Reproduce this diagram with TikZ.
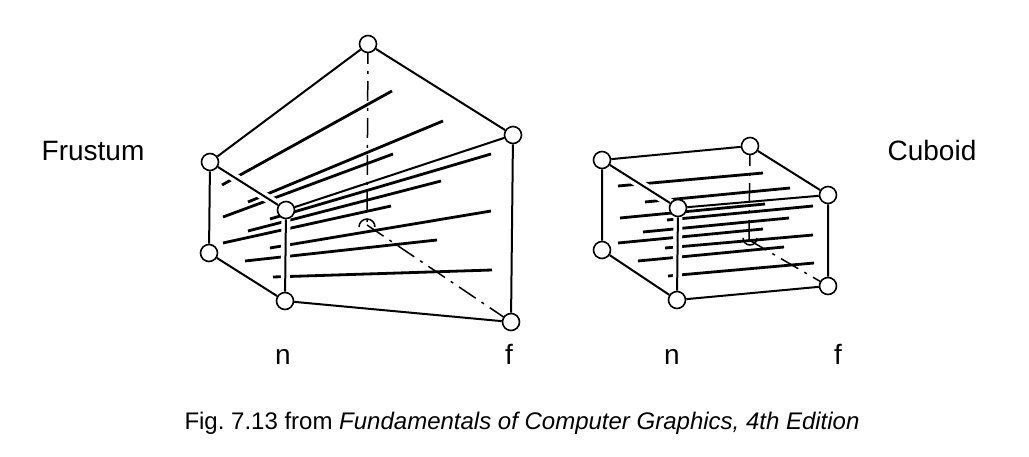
\documentclass[tikz,border=0pt]{standalone}
\usepackage{fontspec}
\setmainfont{Liberation Sans}
\frenchspacing
\begin{document}
\begin{tikzpicture}[x=1pt,y=-1pt,
  vtx/.style={circle,draw,line width=1.6pt,fill=white,minimum size=17pt,inner sep=0pt},
  edge/.style={line width=2pt},
  hid/.style={line width=1.5pt,dash pattern=on 20pt off 7pt on 3pt off 7pt},
  sl/.style={line width=2.8pt},
  halo/.style={white,line width=9pt},
  lbl/.style={font=\fontsize{28}{32}\selectfont},
  blbl/.style={lbl,anchor=base}]
\useasboundingbox (0,0) rectangle (1029,457);
% frustum
\coordinate (fh) at (367,225);
\draw[hid] (368,44) -- (fh);
\draw[hid] (fh) -- (511,322);
\draw[line width=1.5pt] (359,227) arc[start angle=180,end angle=0,radius=8pt];
\draw[sl] (222,185)--(392,91) (248,202)--(443,121) (223,217)--(393,154)
 (270,219)--(491,154) (248,231)--(441,181) (223,243)--(391,206)
 (270,248)--(491,211) (245,261)--(437,240) (273,277)--(492,270);
\draw[halo] (286,210)--(285,301);
\draw[halo] (210,162)--(286,210);
\node[vtx] (ftb) at (368,44) {};
\node[vtx] (flt) at (210,162) {};
\node[vtx] (flb) at (209,253) {};
\node[vtx] (fnt) at (286,210) {};
\node[vtx] (fnb) at (285,301) {};
\node[vtx] (frt) at (513,135) {};
\node[vtx] (frb) at (511,322) {};
\draw[edge] (flt)--(ftb) (ftb)--(frt) (flt)--(fnt) (fnt)--(frt) (flt)--(flb)
 (fnt)--(fnb) (flb)--(fnb) (fnb)--(frb) (frt)--(frb);
% cuboid
\coordinate (ch) at (749,240);
\draw[hid] (750,146) -- (ch);
\draw[hid] (ch) -- (828,286);
\draw[line width=1.5pt] (757,238) arc[start angle=0,end angle=-180,radius=7pt];
\draw[sl] (618,186)--(763,173) (645,202)--(790,188) (620,218)--(765,204)
 (667,220)--(813,206) (643,232)--(789,218) (618,243)--(763,229)
 (665,248)--(813,235) (638,261)--(784,247) (668,276)--(814,263);
\draw[halo] (678,208)--(677,300);
\draw[halo] (602,160)--(678,208);
\node[vtx] (clt) at (602,160) {};
\node[vtx] (ctb) at (750,146) {};
\node[vtx] (crt) at (828,195) {};
\node[vtx] (clb) at (602,250) {};
\node[vtx] (cnt) at (678,208) {};
\node[vtx] (cnb) at (677,300) {};
\node[vtx] (crb) at (828,286) {};
\draw[edge] (clt)--(ctb) (ctb)--(crt) (clt)--(cnt) (cnt)--(crt) (clt)--(clb)
 (cnt)--(cnb) (clb)--(cnb) (cnb)--(crb) (crt)--(crb);
% labels
\node[blbl] (t1) at (93,161) {Frustum};
\node[blbl] (t2) at (932,161) {Cuboid};
\node[blbl] (n1) at (283,364) {n};
\node[blbl] (f1) at (509,364) {f};
\node[blbl] (n2) at (672,364) {n};
\node[blbl] (f2) at (838,364) {f};
\node[font=\fontsize{24}{28}\selectfont] (cap) at (522,423) {Fig. 7.13 from \textit{Fundamentals of Computer Graphics, 4th Edition}};
\end{tikzpicture}
\end{document}
